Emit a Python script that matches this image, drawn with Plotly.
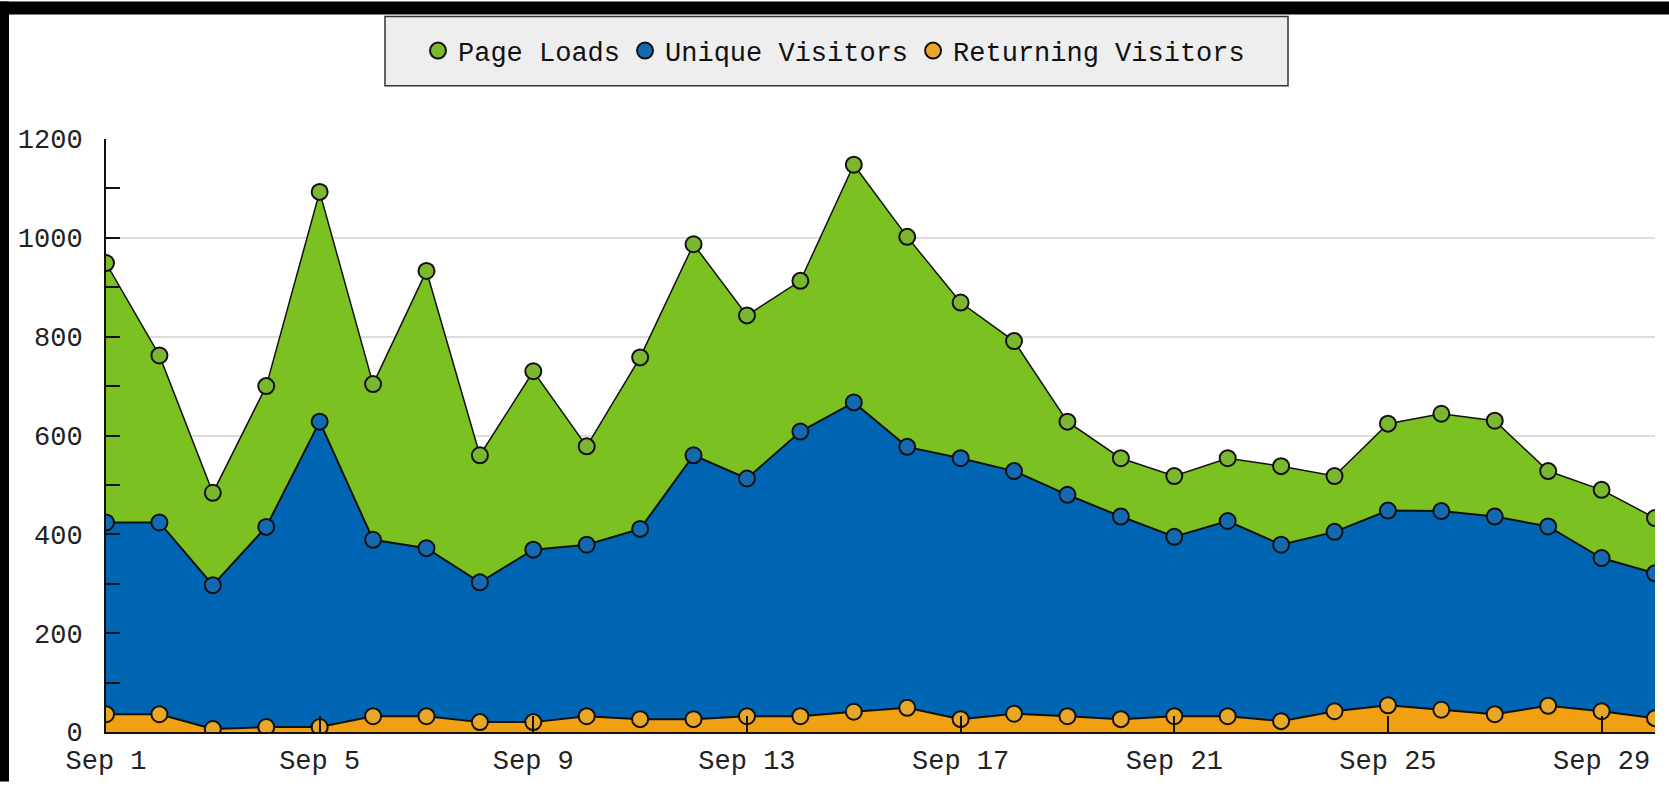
import plotly.graph_objects as go

# September daily traffic
days = [f"2013-09-{d:02d}" for d in range(1, 31)]
tick_days = ["2013-09-01", "2013-09-05", "2013-09-09", "2013-09-13",
             "2013-09-17", "2013-09-21", "2013-09-25", "2013-09-29"]
tick_labels = ["Sep 1", "Sep 5", "Sep 9", "Sep 13", "Sep 17", "Sep 21", "Sep 25", "Sep 29"]

page_loads = [949, 762, 484, 700, 1093, 704, 933, 560, 730, 578,
              758, 987, 843, 913, 1148, 1002, 869, 791, 628, 554,
              518, 554, 538, 518, 624, 644, 630, 528, 490, 433]
unique_visitors = [424, 424, 297, 415, 628, 389, 372, 303, 369, 379,
                   411, 560, 513, 608, 667, 577, 554, 528, 480, 436,
                   395, 427, 379, 405, 448, 447, 436, 416, 352, 321]
returning_visitors = [36, 36, 6, 10, 10, 32, 32, 20, 20, 32,
                      26, 26, 32, 32, 41, 49, 26, 37, 32, 26,
                      32, 32, 22, 42, 54, 45, 36, 53, 42, 28]

FONT = "Liberation Mono"
EDGE = "#111111"

fig = go.Figure()

series = [
    ("Page Loads", page_loads, "#7ac121", "#7cb82f", 1.5),
    ("Unique Visitors", unique_visitors, "#0066b3", "#1469b0", 2),
    ("Returning Visitors", returning_visitors, "#f0a010", "#e9a728", 2),
]
for name, values, fill, mark, lw in series:
    fig.add_trace(go.Scatter(
        x=days, y=values, name=name, mode="lines+markers",
        fill="tozeroy", fillcolor=fill, showlegend=False,
        line=dict(color=EDGE, width=lw),
        marker=dict(size=16, color=mark, line=dict(color=EDGE, width=2)),
    ))

# legend entries show only the round marker
for name, values, fill, mark, lw in series:
    fig.add_trace(go.Scatter(
        x=[None], y=[None], name=name, mode="markers",
        marker=dict(size=16, color=mark, line=dict(color=EDGE, width=2)),
    ))

W, H = 1669, 789
L, R, T, B = 106, 14, 139, 50
pw, ph = W - L - R, H - T - B


def px(x):
    return (x - L) / pw


def py(y):
    return (H - B - y) / ph


shapes = [
    # black strips along the top and left edges
    dict(type="rect", xref="paper", yref="paper", x0=px(0), x1=px(W), y0=py(13), y1=py(0),
         fillcolor="black", line_width=0, layer="below"),
    dict(type="rect", xref="paper", yref="paper", x0=px(0), x1=px(9), y0=py(H), y1=py(0),
         fillcolor="black", line_width=0, layer="below"),
    # legend box
    dict(type="rect", xref="paper", yref="paper", x0=px(385), x1=px(1288), y0=py(85), y1=py(15),
         fillcolor="#eeeeee", line=dict(color="#333333", width=1.5), layer="below"),
]

fig.update_layout(
    width=W, height=H,
    margin=dict(l=L, r=R, t=T, b=B),
    paper_bgcolor="white", plot_bgcolor="white",
    font=dict(family=FONT, size=27, color="#222222"),
    shapes=shapes,
    showlegend=True,
    legend=dict(orientation="h", x=px(834), y=py(50), xanchor="center", yanchor="middle",
                bgcolor="rgba(0,0,0,0)", font=dict(family=FONT, size=27, color="#111111"),
                traceorder="normal"),
    xaxis=dict(
        range=[days[0], days[-1]], tickvals=tick_days, ticktext=tick_labels,
        showgrid=False, showline=True, linecolor=EDGE, linewidth=2,
        ticks="inside", ticklen=16, tickcolor=EDGE, tickwidth=1.5,
        ticklabelstandoff=3, zeroline=False,
    ),
    yaxis=dict(
        range=[0, 1200], dtick=200, showgrid=True, gridcolor="#dddddd", gridwidth=1.5,
        showline=True, linecolor=EDGE, linewidth=2,
        ticks="inside", ticklen=14, tickcolor=EDGE, tickwidth=1.5,
        minor=dict(dtick=100, ticks="inside", ticklen=14, tickcolor=EDGE, showgrid=False),
        ticklabelstandoff=16, zeroline=False,
    ),
)

# the page's default body margin would shift the figure by 8px
fig.write_html("out.html", config={"displayModeBar": False},
               post_script="document.body.style.margin='0px';")
